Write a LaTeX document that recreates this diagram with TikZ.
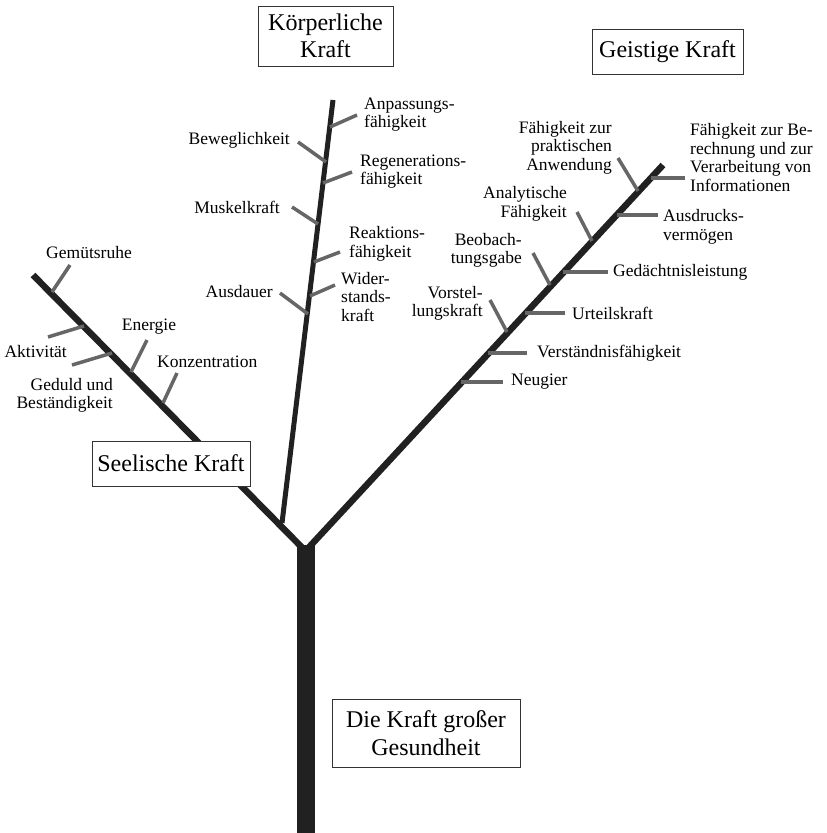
\documentclass[tikz,border=0pt]{standalone}
\usepackage{fontspec}
\setmainfont{Liberation Serif}
\begin{document}
\begin{tikzpicture}[x=1pt,y=-1pt,
  ast/.style={line width=6.5pt,color=black!87},
  zweig/.style={line width=3.5pt,color=black!60},
  lbl/.style={font=\fontsize{17.5}{18.5}\selectfont,inner sep=0pt},
  kasten/.style={draw=black!80,line width=0.9pt,font=\fontsize{24}{26.5}\selectfont,align=center,inner sep=0pt}]
\useasboundingbox (0,0) rectangle (827,833);
%Stamm
\draw [line width=18pt,color=black!87] (305.5,545) -- (305.5,833);
%Äste
\draw [ast] (305.5,551) -- (33,275);
\draw [ast] (305.5,551) -- (663,165);
\draw [ast,line width=5pt] (282,523) -- (333,100);
%Zweige links
\draw [zweig] (52,292) -- (70,265);
\draw [zweig] (84,326) -- (48,337);
\draw [zweig] (112,353) -- (72,365);
\draw [zweig] (131,372) -- (147,340);
\draw [zweig] (163,403) -- (177,373);
%Zweige Mitte
\draw [zweig] (330,127) -- (357,115);
\draw [zweig] (326,162) -- (298,142);
\draw [zweig] (323,183) -- (352,172);
\draw [zweig] (318,224) -- (292,207);
\draw [zweig] (314,262) -- (340,252);
\draw [zweig] (310,296) -- (335,285);
\draw [zweig] (308,314) -- (280,293);
%Zweige rechts
\draw [zweig] (651,178) -- (685,178);
\draw [zweig] (638,191) -- (618,158);
\draw [zweig] (617,215) -- (658,215);
\draw [zweig] (592,241) -- (577,212);
\draw [zweig] (563,272) -- (608,272);
\draw [zweig] (550,285) -- (533,253);
\draw [zweig] (525,313) -- (565,313);
\draw [zweig] (507,332) -- (490,300);
\draw [zweig] (488,353) -- (527,353);
\draw [zweig] (461,382) -- (503,382);
%Kästen
\node [kasten,minimum width=135,minimum height=60] (koerper) at (325.5,36) {Körperliche\\Kraft};
\node [kasten,minimum width=151,minimum height=45] (geist) at (667.5,51.5) {Geistige Kraft};
\node [kasten,minimum width=158,minimum height=45,fill=white] (seele) at (171,463.5) {Seelische Kraft};
\node [kasten,minimum width=188,minimum height=68,font=\fontsize{24}{28}\selectfont] (gesund) at (426,733) {Die Kraft großer\\Gesundheit};
%Text links
\node [lbl] (gemuet) at (89,253) {Gemütsruhe};
\node [lbl,anchor=east] (aktiv) at (67,352) {Aktivität};
\node [lbl,anchor=east,align=right] (geduld) at (113,395.5) {Geduld und\\Beständigkeit};
\node [lbl] (energie) at (149,327) {Energie};
\node [lbl,anchor=west] (konz) at (157,362) {Konzentration};
%Text Mitte
\node [lbl,anchor=west,align=left] (anpass) at (364,114.5) {Anpassungs-\\fähigkeit};
\node [lbl,anchor=east] (beweg) at (290,140) {Beweglichkeit};
\node [lbl,anchor=west,align=left] (regen) at (360,171.5) {Regenerations-\\fähigkeit};
\node [lbl,anchor=east] (muskel) at (280,207) {Muskelkraft};
\node [lbl,anchor=west,align=left] (reakt) at (349,244) {Reaktions-\\fähigkeit};
\node [lbl,anchor=west,align=left] (wider) at (341,297) {Wider-\\stands-\\kraft};
\node [lbl,anchor=east] (ausdauer) at (273,292) {Ausdauer};
%Text rechts
\node [lbl,anchor=west,align=left] (info) at (690,157.5) {Fähigkeit zur Be-\\rechnung und zur\\Verarbeitung von\\Informationen};
\node [lbl,anchor=east,align=right] (prakt) at (612,147.5) {Fähigkeit zur\\praktischen\\Anwendung};
\node [lbl,anchor=west,align=left] (ausdr) at (663,227) {Ausdrucks-\\vermögen};
\node [lbl,anchor=east,align=right] (analyt) at (567,204) {Analytische\\Fähigkeit};
\node [lbl,anchor=west] (gedaecht) at (613,272) {Gedächtnisleistung};
\node [lbl,anchor=east,align=right] (beob) at (522,250.5) {Beobach-\\tungsgabe};
\node [lbl,anchor=west] (urteil) at (572,313) {Urteilskraft};
\node [lbl,anchor=east,align=right] (vorst) at (483,303.5) {Vorstel-\\lungskraft};
\node [lbl,anchor=west] (verst) at (537,353) {Verständnisfähigkeit};
\node [lbl,anchor=west] (neugier) at (511,382) {Neugier};
\end{tikzpicture}
\end{document}
